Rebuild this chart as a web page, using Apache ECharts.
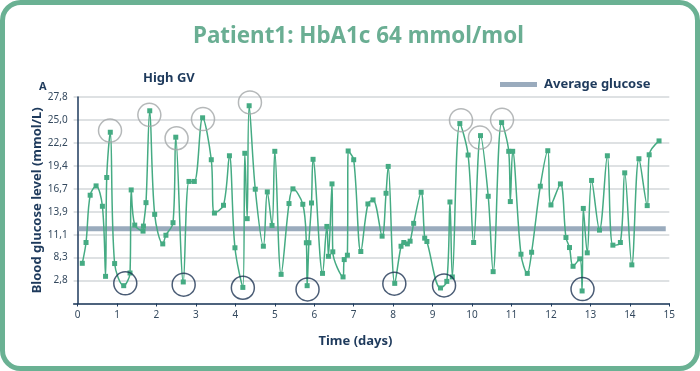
<!DOCTYPE html>
<html>
<head>
<meta charset="utf-8">
<script src="https://cdn.jsdelivr.net/npm/echarts@6/dist/echarts.min.js"></script>
<style>
html,body{margin:0;padding:0;background:#fff;}
#chart{width:700px;height:371px;}
</style>
</head>
<body>
<div id="chart"></div>
<script>
// ---- data ----
var days = [0.12,0.215,0.32,0.47,0.63,0.71,0.74,0.83,0.94,1.17,1.33,1.36,1.45,1.66,1.67,1.735,1.83,1.955,2.16,2.24,2.42,2.49,2.68,2.825,2.96,3.17,3.39,3.47,3.70,3.85,3.99,4.19,4.24,4.30,4.35,4.505,4.71,4.81,4.93,5.0,5.16,5.36,5.46,5.71,5.80,5.82,5.865,5.93,5.97,6.21,6.32,6.36,6.45,6.47,6.73,6.76,6.84,6.86,7.0,7.18,7.36,7.49,7.72,7.82,7.875,8.04,8.20,8.27,8.36,8.43,8.52,8.71,8.80,8.855,9.20,9.36,9.44,9.50,9.69,9.90,10.04,10.215,10.41,10.535,10.75,10.93,10.97,11.03,11.24,11.40,11.51,11.73,11.92,12.0,12.24,12.38,12.47,12.56,12.73,12.79,12.82,12.92,13.03,13.23,13.43,13.57,13.76,13.87,14.05,14.23,14.44,14.49,14.74];
var glucose = [7.65,10.17,15.9,17.03,14.56,6.07,18.05,23.53,7.62,4.94,6.48,16.54,12.28,11.55,12.16,15.0,26.13,13.58,10.0,11.05,12.57,22.93,5.39,17.57,17.57,25.28,20.2,13.74,14.68,20.68,9.53,4.73,20.98,13.06,26.74,16.63,9.72,16.3,12.24,21.22,6.31,14.89,16.67,14.8,10.14,4.94,10.14,14.96,20.25,6.43,12.12,8.5,17.27,9.04,6.0,8.1,8.63,21.26,20.2,9.08,14.84,15.33,10.94,16.14,19.39,5.22,9.72,10.17,10.0,10.33,12.49,16.26,10.7,10.29,4.66,5.46,15.08,6.0,24.58,20.77,10.17,23.12,15.77,6.64,24.7,21.22,15.13,21.22,8.75,6.43,8.99,16.99,21.29,14.72,17.27,10.78,9.56,7.29,8.19,4.3,14.3,8.92,17.69,11.67,20.68,9.85,10.17,18.61,7.46,20.32,14.64,20.8,22.48];
var avgGlucose = 11.85;
var avgSpan = [0.03, 14.91];
var peakCircleDays = [0.823,1.82,2.51,3.18,4.37,9.72,10.2,10.76];
var peakCircleVals = [23.73,25.64,22.8,25.12,27.14,24.99,22.88,25.03];
var lowCircleDays = [1.21,2.69,4.19,5.83,8.03,9.29,12.8];
var lowCircleVals = [5.22,5.06,4.69,4.49,5.18,4.97,4.53];
var xTicks = [0,1,2,3,4,5,6,7,8,9,10,11,12,13,14,15];
var yTickLabels = ["", "2,8", "8,3", "11,1", "13,9", "16,7", "19,4", "22,2", "25,0", "27,8"];

var NAVY = '#1e3a5c';
var GREEN = '#45ab83';
var FONT = '"Noto Sans"';

function pairs(xs, ys){ return xs.map(function(x,i){ return [x, ys[i]]; }); }

var chart = echarts.init(document.getElementById('chart'), null, {renderer:'canvas'});
chart.setOption({
  backgroundColor: '#ffffff',
  animation: false,
  title: {
    text: 'Patient1: HbA1c 64 mmol/mol',
    left: 188, top: 21,
    textStyle: {color:'#6aae93', fontSize:22.4, fontWeight:'bold', fontFamily:FONT}
  },
  graphic: [
    {type:'rect', z:-10, shape:{x:2.5,y:2.5,width:695,height:366,r:18},
     style:{fill:'#fff', stroke:'#6ab193', lineWidth:5}},
    {type:'text', left:39, top:81, style:{text:'A', fill:NAVY, font:'bold 11px '+FONT}},
    {type:'text', left:143, top:72, style:{text:'High GV', fill:NAVY, font:'bold 13px '+FONT}}
  ],
  legend: {
    data: ['Average glucose'],
    left: 495, top: 73,
    icon: 'rect', itemWidth: 37, itemHeight: 5,
    textStyle: {color:NAVY, fontSize:13, fontWeight:'bold', fontFamily:FONT, padding:[0,0,0,2]}
  },
  grid: {left:73.6, right:30.7, top:97, bottom:67.5},
  xAxis: {
    type:'value', min:-0.1, max:15,
    name:'Time (days)', nameLocation:'middle', nameGap:31,
    nameTextStyle:{color:NAVY, fontSize:13, fontWeight:'bold', fontFamily:FONT, padding:[0,32,0,0]},
    axisLine:{show:true, lineStyle:{color:NAVY, width:1.5}},
    axisTick:{show:true, customValues:xTicks, length:3, lineStyle:{color:NAVY}},
    axisLabel:{customValues:xTicks, color:'#34495e', fontSize:10, fontFamily:FONT, margin:7},
    splitLine:{show:false}
  },
  yAxis: {
    type:'value', min:2.78, max:27.8, interval:2.78,
    name:'Blood glucose level (mmol/L)', nameLocation:'middle', nameGap:30, nameMoveOverlap:false,
    nameTextStyle:{color:NAVY, fontSize:13, fontWeight:'bold', fontFamily:FONT},
    axisLine:{show:true, lineStyle:{color:NAVY, width:1.5}},
    axisTick:{show:false},
    axisLabel:{color:'#34495e', fontSize:10, fontFamily:FONT, margin:6,
      formatter:function(v){ var k=Math.round(v/2.78)-1; return yTickLabels[k]||''; }},
    splitLine:{show:true, lineStyle:{color:'#d3d7da', width:1.5}}
  },
  series: [
    {name:'Average glucose', type:'line', data:[[avgSpan[0],avgGlucose],[avgSpan[1],avgGlucose]],
     symbol:'none', lineStyle:{color:'#9aabbd', width:5}, itemStyle:{color:'#9aabbd'}, z:1, silent:true},
    {name:'Glucose', type:'line', data:pairs(days, glucose), smooth:0.35,
     symbol:'rect', symbolSize:5, lineStyle:{color:GREEN, width:1.5}, itemStyle:{color:GREEN}, z:3},
    {name:'High', type:'scatter', data:pairs(peakCircleDays, peakCircleVals), symbol:'circle', symbolSize:23,
     itemStyle:{color:'rgba(0,0,0,0)', borderColor:'#a3a6a8', borderWidth:1.5}, z:4, clip:false},
    {name:'Low', type:'scatter', data:pairs(lowCircleDays, lowCircleVals), symbol:'circle', symbolSize:23,
     itemStyle:{color:'rgba(0,0,0,0)', borderColor:'#1d3352', borderWidth:1.5}, z:4, clip:false}
  ]
});
</script>
</body>
</html>
